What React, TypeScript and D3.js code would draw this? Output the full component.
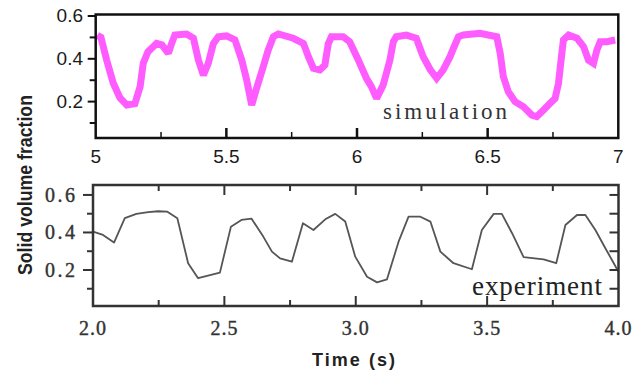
import { useEffect, useRef } from 'react';
import * as d3 from 'd3';

// simulation (top panel)
const simTime = [
  5.006, 5.02, 5.042, 5.067, 5.093, 5.119, 5.15, 5.17, 5.182, 5.2, 5.233, 5.253, 5.278, 5.29, 5.303,
  5.348, 5.374, 5.393, 5.412, 5.431, 5.45, 5.469, 5.501, 5.533, 5.559, 5.578, 5.597, 5.616, 5.638,
  5.66, 5.68, 5.699, 5.756, 5.795, 5.814, 5.833, 5.858, 5.877, 5.89, 5.902, 5.947, 5.972, 6.005,
  6.036, 6.055, 6.075, 6.1, 6.126, 6.139, 6.15, 6.189, 6.227, 6.253, 6.28, 6.305, 6.33, 6.356,
  6.369, 6.388, 6.407, 6.471, 6.535, 6.548, 6.56, 6.579, 6.605, 6.637, 6.669, 6.688, 6.713, 6.739,
  6.758, 6.771, 6.784, 6.79, 6.81, 6.842, 6.867, 6.886, 6.905, 6.918, 6.931, 6.956, 6.988,
];
const simFraction = [
  0.51, 0.5, 0.394, 0.287, 0.217, 0.184, 0.19, 0.27, 0.38, 0.433, 0.472, 0.465, 0.426, 0.47, 0.511,
  0.516, 0.496, 0.394, 0.324, 0.38, 0.47, 0.503, 0.507, 0.488, 0.394, 0.3, 0.184, 0.264, 0.35,
  0.44, 0.503, 0.516, 0.496, 0.472, 0.41, 0.356, 0.348, 0.371, 0.47, 0.503, 0.503, 0.48, 0.394,
  0.309, 0.27, 0.215, 0.277, 0.394, 0.48, 0.503, 0.511, 0.496, 0.41, 0.35, 0.309, 0.348, 0.41,
  0.449, 0.503, 0.511, 0.519, 0.503, 0.426, 0.317, 0.246, 0.2, 0.176, 0.137, 0.13, 0.16, 0.192,
  0.215, 0.285, 0.426, 0.488, 0.511, 0.496, 0.457, 0.394, 0.379, 0.441, 0.48, 0.48, 0.488,
];

// experiment (bottom panel)
const expTime = [
  2.0, 2.038, 2.08, 2.121, 2.165, 2.21, 2.248, 2.283, 2.321, 2.362, 2.4, 2.483, 2.525, 2.565, 2.603,
  2.648, 2.681, 2.712, 2.757, 2.799, 2.839, 2.884, 2.922, 2.96, 2.998, 3.043, 3.081, 3.119, 3.163,
  3.201, 3.246, 3.284, 3.322, 3.372, 3.442, 3.48, 3.525, 3.556, 3.595, 3.639, 3.715, 3.763, 3.798,
  3.842, 3.874, 3.912, 3.95, 3.982, 4.0,
];
const expFraction = [
  0.405, 0.387, 0.346, 0.476, 0.499, 0.508, 0.513, 0.511, 0.476, 0.236, 0.156, 0.186, 0.431, 0.467,
  0.474, 0.378, 0.298, 0.262, 0.244, 0.449, 0.413, 0.47, 0.499, 0.458, 0.271, 0.164, 0.134, 0.15,
  0.351, 0.484, 0.484, 0.458, 0.298, 0.236, 0.204, 0.413, 0.499, 0.499, 0.396, 0.268, 0.257, 0.236,
  0.44, 0.493, 0.493, 0.413, 0.316, 0.236, 0.19,
];

const simXTicks = [5, 5.5, 6, 6.5, 7];
const simXTickLabels = ['5', '5.5', '6', '6.5', '7'];
const expXTicks = [2, 2.5, 3, 3.5, 4];
const expXTickLabels = ['2.0', '2.5', '3.0', '3.5', '4.0'];
const yTicks = [0.2, 0.4, 0.6];
const yTickLabels = ['0.2', '0.4', '0.6'];
const yMinorTicks = [0.1, 0.3, 0.5];

const W = 635;
const H = 371;

export default function App() {
  const svgRef = useRef<SVGSVGElement>(null);

  useEffect(() => {
    if (!svgRef.current) return;
    d3.select(svgRef.current).selectAll('*').remove();
    const svg = d3.select(svgRef.current).attr('width', W).attr('height', H);

    // ---------- top panel: simulation ----------
    const x1 = d3.scaleLinear().domain([5, 7]).range([95.7, 618.3]);
    const y1 = d3.scaleLinear().domain([0.03, 0.607]).range([138, 14.5]);
    const top = svg.append('g');

    const simPts = simTime.map((t, i) => [t, simFraction[i]] as [number, number]);
    const simLine = d3.line().x((d) => x1(d[0])).y((d) => y1(d[1]));
    top
      .append('path')
      .attr('d', simLine(simPts) || '')
      .attr('fill', 'none')
      .attr('stroke', '#ff5cff')
      .attr('stroke-width', 7)
      .attr('stroke-linejoin', 'miter')
      .attr('stroke-miterlimit', 2);

    top
      .append('rect')
      .attr('x', x1(5))
      .attr('y', y1(0.607))
      .attr('width', x1(7) - x1(5))
      .attr('height', y1(0.03) - y1(0.607))
      .attr('fill', 'none')
      .attr('stroke', '#111')
      .attr('stroke-width', 2.5);

    // left ticks (outward)
    [...yTicks, ...yMinorTicks].forEach((v) => {
      top
        .append('line')
        .attr('x1', x1(5) - (yTicks.includes(v) ? 8 : 6))
        .attr('x2', x1(5))
        .attr('y1', y1(v))
        .attr('y2', y1(v))
        .attr('stroke', '#111')
        .attr('stroke-width', 2);
    });
    yTicks.forEach((v, i) => {
      top
        .append('text')
        .attr('x', 83)
        .attr('y', y1(v) + 6.5)
        .attr('text-anchor', 'end')
        .style('font-family', 'Liberation Sans, Arial, sans-serif')
        .style('font-size', '19px')
        .style('fill', '#1a1a1a')
        .text(yTickLabels[i]);
    });
    // bottom ticks (inward)
    d3.range(5.25, 7, 0.25).forEach((t) => {
      const major = Math.abs(t * 2 - Math.round(t * 2)) < 1e-6;
      top
        .append('line')
        .attr('x1', x1(t))
        .attr('x2', x1(t))
        .attr('y1', y1(0.03))
        .attr('y2', y1(0.03) - (major ? 10 : 6))
        .attr('stroke', '#111')
        .attr('stroke-width', major ? 2.5 : 1.5);
    });
    simXTicks.forEach((t, i) => {
      top
        .append('text')
        .attr('x', x1(t))
        .attr('y', 163)
        .attr('text-anchor', 'middle')
        .style('font-family', 'Liberation Sans, Arial, sans-serif')
        .style('font-size', '19px')
        .style('fill', '#1a1a1a')
        .text(simXTickLabels[i]);
    });
    top
      .append('text')
      .attr('x', 383)
      .attr('y', 119)
      .attr('textLength', 124)
      .attr('lengthAdjust', 'spacing')
      .style('font-family', 'Liberation Serif, Times New Roman, serif')
      .style('font-size', '23px')
      .style('fill', '#333')
      .text('simulation');

    // ---------- bottom panel: experiment ----------
    const x2 = d3.scaleLinear().domain([2, 4]).range([93, 618.5]);
    const y2 = d3.scaleLinear().domain([0.008, 0.653]).range([306, 185]);
    const bot = svg.append('g');

    const expPts = expTime.map((t, i) => [t, expFraction[i]] as [number, number]);
    bot
      .append('path')
      .attr('d', d3.line().x((d) => x2(d[0])).y((d) => y2(d[1]))(expPts) || '')
      .attr('fill', 'none')
      .attr('stroke', '#555')
      .attr('stroke-width', 1.8)
      .attr('stroke-linejoin', 'round');

    bot
      .append('rect')
      .attr('x', x2(2))
      .attr('y', y2(0.653))
      .attr('width', x2(4) - x2(2))
      .attr('height', y2(0.008) - y2(0.653))
      .attr('fill', 'none')
      .attr('stroke', '#333')
      .attr('stroke-width', 2.5);

    [...yTicks, ...yMinorTicks].forEach((v) => {
      const major = yTicks.includes(v);
      bot
        .append('line')
        .attr('x1', x2(2) - (major ? 10 : 6))
        .attr('x2', x2(2))
        .attr('y1', y2(v))
        .attr('y2', y2(v))
        .attr('stroke', '#333')
        .attr('stroke-width', 2);
      bot
        .append('line')
        .attr('x1', x2(4) - 9)
        .attr('x2', x2(4))
        .attr('y1', y2(v))
        .attr('y2', y2(v))
        .attr('stroke', '#333')
        .attr('stroke-width', 2);
    });
    yTicks.forEach((v, i) => {
      bot
        .append('text')
        .attr('x', 75)
        .attr('y', y2(v) + 7)
        .attr('text-anchor', 'end')
        .attr('textLength', 30)
        .attr('lengthAdjust', 'spacing')
        .style('font-family', 'Liberation Serif, Times New Roman, serif')
        .style('font-size', '20px')
        .style('fill', '#333')
        .style('stroke', '#333')
        .style('stroke-width', 0.4)
        .text(yTickLabels[i]);
    });
    d3.range(2.25, 4, 0.25).forEach((t) => {
      const major = Math.abs(t * 2 - Math.round(t * 2)) < 1e-6;
      const len = major ? 10 : 6;
      bot
        .append('line')
        .attr('x1', x2(t))
        .attr('x2', x2(t))
        .attr('y1', y2(0.008))
        .attr('y2', y2(0.008) - len)
        .attr('stroke', '#333')
        .attr('stroke-width', 2);
      bot
        .append('line')
        .attr('x1', x2(t))
        .attr('x2', x2(t))
        .attr('y1', y2(0.653))
        .attr('y2', y2(0.653) + len)
        .attr('stroke', '#333')
        .attr('stroke-width', 2);
    });
    expXTicks.forEach((t, i) => {
      bot
        .append('text')
        .attr('x', x2(t))
        .attr('y', 335)
        .attr('text-anchor', 'middle')
        .style('font-family', 'Liberation Serif, Times New Roman, serif')
        .style('font-size', '20px')
        .style('letter-spacing', '1px')
        .style('fill', '#333')
        .style('stroke', '#333')
        .style('stroke-width', 0.4)
        .text(expXTickLabels[i]);
    });
    bot
      .append('text')
      .attr('x', 472)
      .attr('y', 295)
      .attr('textLength', 130)
      .attr('lengthAdjust', 'spacing')
      .style('font-family', 'Liberation Serif, Times New Roman, serif')
      .style('font-size', '27px')
      .style('fill', '#222')
      .text('experiment');

    // ---------- axis titles ----------
    svg
      .append('text')
      .attr('transform', 'translate(32,275) rotate(-90)')
      .attr('textLength', 180)
      .attr('lengthAdjust', 'spacingAndGlyphs')
      .style('font-family', 'Liberation Sans, Arial, sans-serif')
      .style('font-weight', 'bold')
      .style('font-size', '20px')
      .style('fill', '#222')
      .text('Solid volume fraction');

    svg
      .append('text')
      .attr('x', 312)
      .attr('y', 366)
      .attr('textLength', 83)
      .attr('lengthAdjust', 'spacing')
      .style('font-family', 'Liberation Sans, Arial, sans-serif')
      .style('font-weight', 'bold')
      .style('font-size', '18px')
      .style('fill', '#222')
      .text('Time (s)');
  }, []);

  return <svg ref={svgRef} style={{ position: 'absolute', left: 0, top: 0 }}></svg>;
}
